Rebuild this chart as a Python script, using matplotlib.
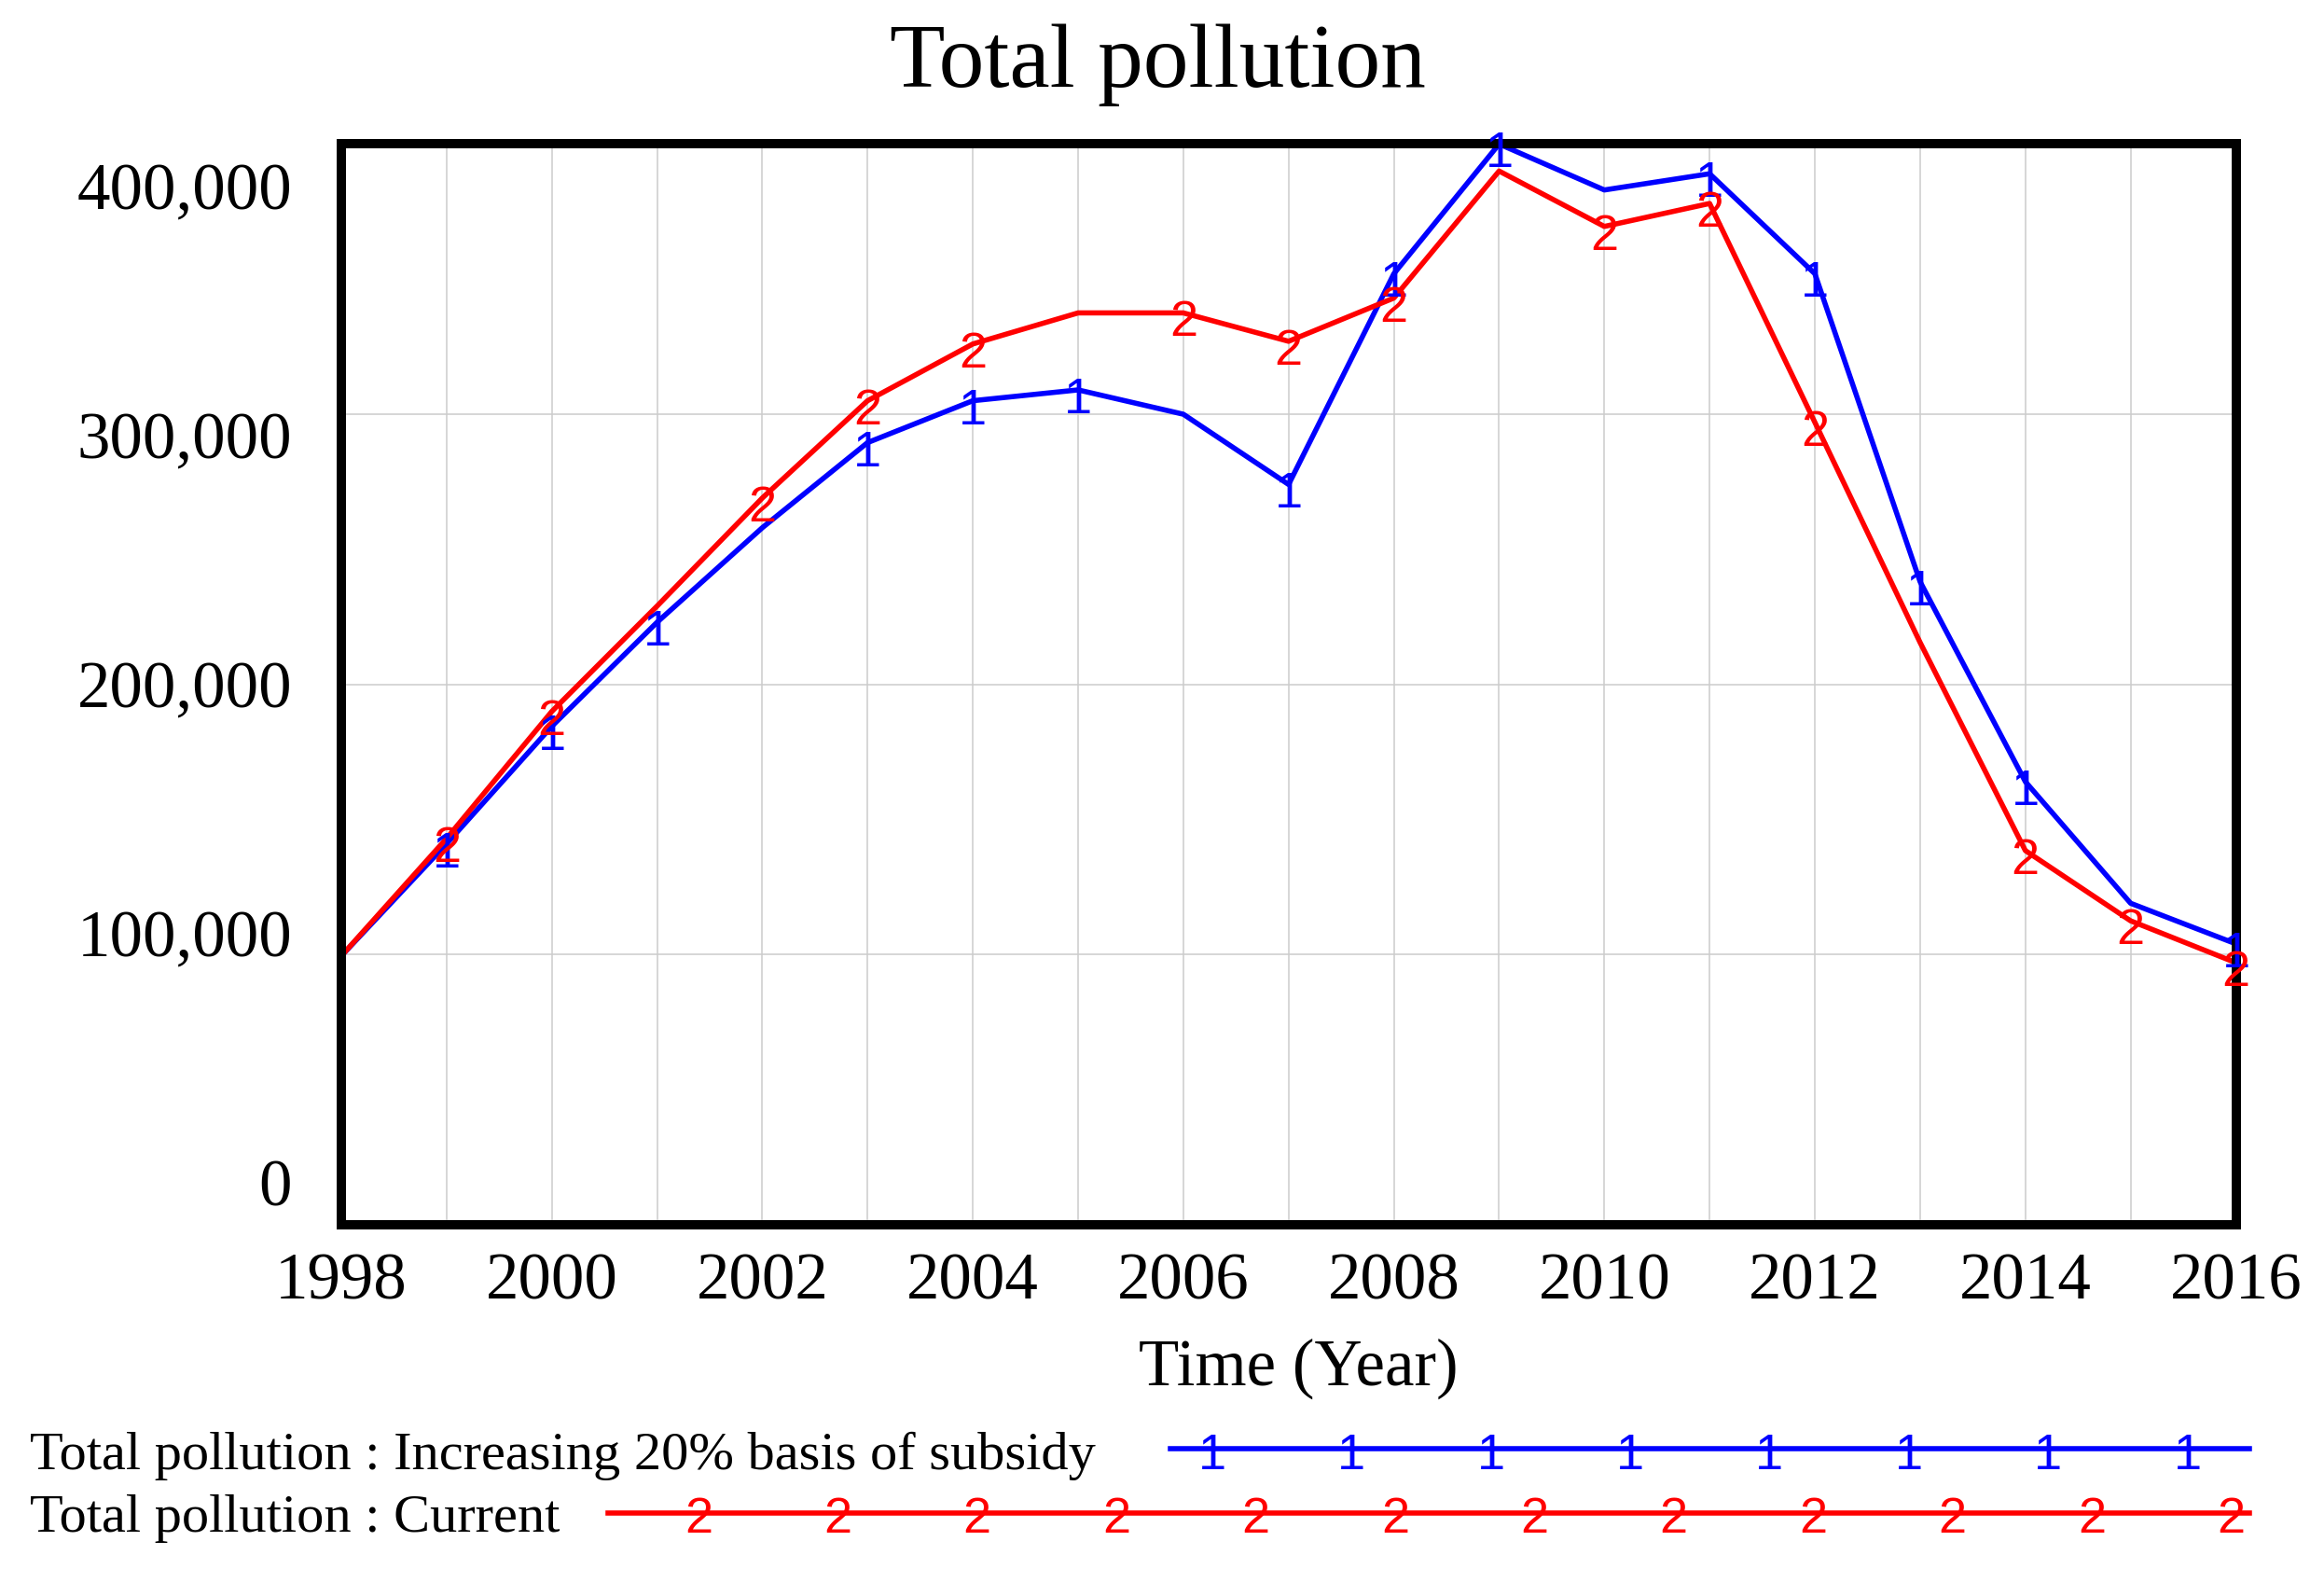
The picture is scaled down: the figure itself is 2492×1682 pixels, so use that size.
import numpy as np
import matplotlib.pyplot as plt
import matplotlib.transforms as mtransforms
from matplotlib.lines import Line2D
from matplotlib.ticker import MultipleLocator

# data (Vensim style output)
years = list(range(1998, 2017))
subsidy_20 = [99500, 141000, 184500, 223000, 258000, 289500, 305000, 309000, 300000, 274000,
              352000, 400000, 383000, 389000, 352000, 238000, 164000, 119000, 104000]
current = [99500, 143000, 190000, 229000, 269000, 305000, 326000, 337500, 337500, 327000,
           343000, 390000, 369500, 378000, 297000, 215500, 138500, 112500, 97000]

# years where the "1" / "2" run markers sit on the lines
marks_1 = [1999, 2000, 2001, 2003, 2004, 2005, 2007, 2008, 2009, 2011, 2012, 2013, 2014, 2016]
marks_2 = [1999, 2000, 2002, 2003, 2004, 2006, 2007, 2008, 2010, 2011, 2012, 2014, 2015, 2016]

y_ticks = [0, 100000, 200000, 300000, 400000]
x_ticks = list(range(1998, 2017, 2))
series_names = ["Total pollution : Increasing 20% basis of subsidy",
                "Total pollution : Current"]

BLUE = '#0000ff'
RED = '#ff0000'
SERIF = 'Liberation Serif'
SANS = 'Liberation Sans'
LW = 4.0

fig = plt.figure(figsize=(24.92, 16.82), dpi=100)
ax = fig.add_axes([0.14687, 0.21938, 0.81521, 0.68882])
ax.set_xlim(1998, 2016)
ax.set_ylim(0, 400000)

ax.plot(years, subsidy_20, color=BLUE, lw=LW, clip_on=False, zorder=3)
ax.plot(years, current, color=RED, lw=LW, clip_on=False, zorder=3)

# run markers drawn as digits, like Vensim does
for yr in marks_1:
    ax.annotate('1', (yr, subsidy_20[years.index(yr)]), xytext=(0, -4), textcoords='offset points',
                ha='center', va='center_baseline', fontsize=39, color=BLUE, family=SANS,
                annotation_clip=False, zorder=4)
for yr in marks_2:
    ax.annotate('2', (yr, current[years.index(yr)]), xytext=(0, -4), textcoords='offset points',
                ha='center', va='center_baseline', fontsize=39, color=RED, family=SANS,
                annotation_clip=False, zorder=4)

# grid and ticks
ax.set_xticks(x_ticks)
ax.set_xticklabels([str(x) for x in x_ticks], family=SERIF, fontsize=51)
ax.xaxis.set_minor_locator(MultipleLocator(1))
ax.set_yticks(y_ticks)
ax.set_yticklabels([f"{v:,}" for v in y_ticks], family=SERIF, fontsize=51)
ax.grid(axis='x', which='both', color='#cccccc', lw=1.1, zorder=0)
ax.grid(axis='y', which='major', color='#cccccc', lw=1.1, zorder=0)
ax.tick_params(which='both', length=0)
ax.tick_params(axis='x', pad=21.5)
ax.tick_params(axis='y', pad=38)

# y labels are spread evenly between the box edges, not on the grid lines
for val, lab in zip(y_ticks, ax.get_yticklabels()):
    lab.set_va('center_baseline')
    shift = -(val - 200000) / 100000 * 16.3 / 72
    lab.set_transform(lab.get_transform() + mtransforms.ScaledTranslation(0, shift, fig.dpi_scale_trans))

for s in ax.spines.values():
    s.set_linewidth(7.2)
    s.set_zorder(3.5)

fig.text(0.4982, 0.9445, 'Total pollution', ha='center', va='baseline', fontsize=70, family=SERIF)
fig.text(0.5586, 0.1175, 'Time (Year)', ha='center', va='baseline', fontsize=51, family=SERIF)

# legend at the bottom
fig.text(0.01284, 0.06361, series_names[0], ha='left', va='baseline', fontsize=42, family=SERIF)
fig.text(0.01284, 0.02378, series_names[1], ha='left', va='baseline', fontsize=42, family=SERIF)
fig.add_artist(Line2D([0.5036, 0.9679], [0.07669, 0.07669], transform=fig.transFigure, color=BLUE, lw=LW))
fig.add_artist(Line2D([0.2616, 0.9679], [0.03567, 0.03567], transform=fig.transFigure, color=RED, lw=LW))
for xf in (1300 + 149.35 * np.arange(8)) / 2492:
    fig.text(xf, 0.06361, '1', ha='center', va='baseline', fontsize=39, color=BLUE, family=SANS)
for xf in (749 + 149.4 * np.arange(12)) / 2492:
    fig.text(xf, 0.0232, '2', ha='center', va='baseline', fontsize=39, color=RED, family=SANS)

fig.savefig('out.png', dpi=100)
